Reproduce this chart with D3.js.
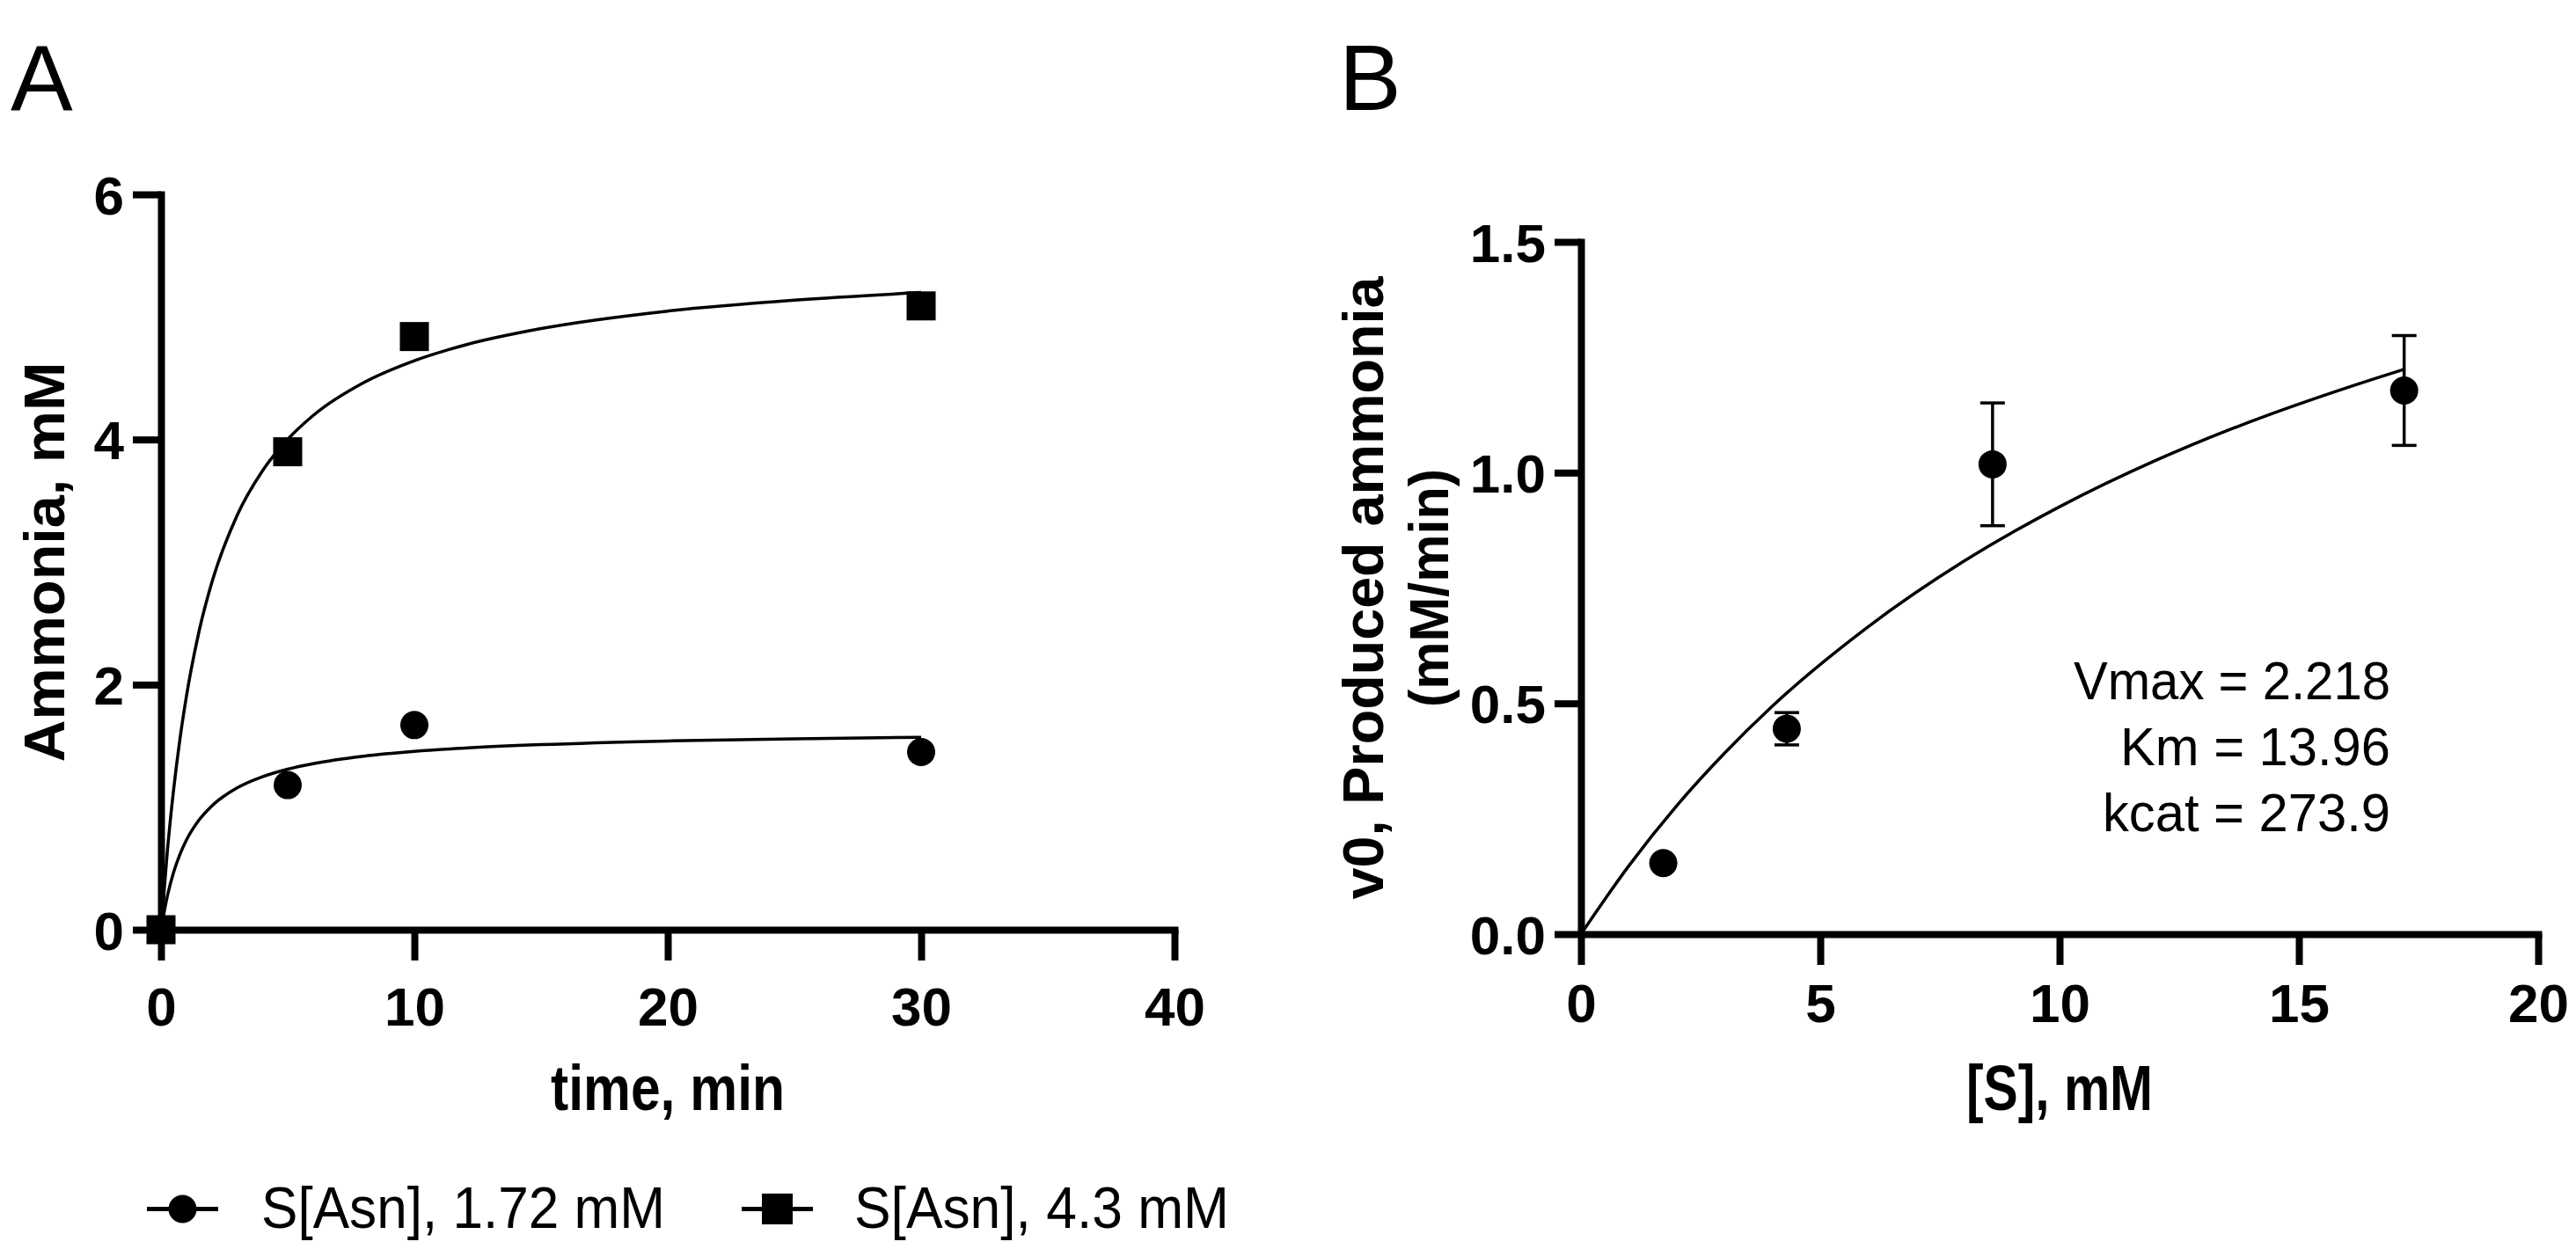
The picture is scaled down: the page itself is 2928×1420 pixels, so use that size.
<!DOCTYPE html>
<html>
<head>
<meta charset="utf-8">
<script src="https://cdn.jsdelivr.net/npm/d3@7/dist/d3.min.js"></script>
<style>
  html, body { margin: 0; padding: 0; background: #fff; }
  svg { display: block; }
  text { font-family: "Liberation Sans", Arial, Helvetica, sans-serif; fill: #000; }
</style>
</head>
<body>
<svg id="chart" width="2928" height="1420"></svg>
<script>
// ---------------- DATA ----------------
// Panel A: time course
const timeA = [0, 5, 10, 30];
const ammonia172 = [0, 1.18, 1.67, 1.45];      // S[Asn] 1.72 mM (circles)
const ammonia43  = [0, 3.90, 4.84, 5.09];      // S[Asn] 4.3 mM (squares)
// fitted curves
const fitTimeA   = [0, 0.25, 0.5, 0.75, 1, 1.5, 2, 3, 4, 5, 6, 8, 10, 12, 15, 20, 25, 30];
const fit172     = [0, 0.274, 0.470, 0.616, 0.730, 0.895, 1.009, 1.157, 1.248, 1.310, 1.355, 1.416, 1.455, 1.482, 1.510, 1.540, 1.558, 1.570];
const fit43      = [0, 0.640, 1.147, 1.559, 1.900, 2.433, 2.829, 3.379, 3.743, 4.001, 4.195, 4.464, 4.643, 4.771, 4.905, 5.048, 5.137, 5.199];
const seriesNamesA = ["S[Asn], 1.72 mM", "S[Asn], 4.3 mM"];
const xTicksA = [0, 10, 20, 30, 40];
const yTicksA = [0, 2, 4, 6];

// Panel B: Michaelis-Menten
const substrateB = [1.72, 4.3, 8.6, 17.2];
const rateB      = [0.154, 0.445, 1.018, 1.178];
const errB       = [0.000, 0.035, 0.133, 0.119];
const fitSB      = [0, 1, 2, 3, 4, 6, 8, 10, 12, 14, 16, 17.2];
const fitVB      = [0, 0.148, 0.278, 0.392, 0.494, 0.666, 0.808, 0.926, 1.026, 1.111, 1.184, 1.224];
const xTicksB = [0, 5, 10, 15, 20];
const yTicksB = [0, 0.5, 1.0, 1.5];
const annotB = ["Vmax = 2.218", "Km = 13.96", "kcat = 273.9"];

// ---------------- DRAW ----------------
const svg = d3.select("#chart");

function txt(g, s, o) {
  const t = g.append("text").text(s)
    .attr("font-size", o.size)
    .attr("font-weight", o.weight || "normal")
    .attr("text-anchor", o.anchor || "start");
  if (o.len) t.attr("textLength", o.len).attr("lengthAdjust", "spacingAndGlyphs");
  if (o.rotate) t.attr("transform", `translate(${o.x},${o.y}) rotate(${o.rotate})`);
  else t.attr("x", o.x).attr("y", o.y);
  return t;
}

function styleAxis(g, fontSize) {
  g.select(".domain").attr("stroke", "#000").attr("stroke-width", 8).attr("stroke-linecap", "square");
  g.selectAll(".tick line").attr("stroke", "#000").attr("stroke-width", 8);
  g.selectAll(".tick text").attr("font-size", fontSize).attr("font-weight", "bold")
    .attr("font-family", '"Liberation Sans", Arial, sans-serif').attr("fill", "#000");
}

// ===== Panel A =====
const xA = d3.scaleLinear().domain([0, 40]).range([183, 1335]);
const yA = d3.scaleLinear().domain([0, 6]).range([1057, 221]);

const gA = svg.append("g");
txt(gA, "A", {x: 12, y: 125, size: 106});

const axBA = gA.append("g").attr("transform", `translate(0,${yA(0)})`)
  .call(d3.axisBottom(xA).tickValues(xTicksA).tickSize(35).tickSizeOuter(0).tickPadding(30).tickFormat(d3.format("d")));
styleAxis(axBA, 62);
const axLA = gA.append("g").attr("transform", `translate(${xA(0)},0)`)
  .call(d3.axisLeft(yA).tickValues(yTicksA).tickSize(32).tickSizeOuter(0).tickPadding(10).tickFormat(d3.format("d")));
styleAxis(axLA, 62);
axLA.selectAll(".tick text").attr("dy", "0.36em");

txt(gA, "time, min", {x: (xA(0) + xA(40)) / 2, y: 1262, size: 72, weight: "bold", anchor: "middle", len: 266});
txt(gA, "Ammonia, mM", {x: 73, y: (yA(0) + yA(6)) / 2, size: 64, weight: "bold", anchor: "middle", len: 455, rotate: -90});

const lineA = d3.line().x(d => xA(d[0])).y(d => yA(d[1])).curve(d3.curveMonotoneX);
gA.append("path").datum(fitTimeA.map((t, i) => [t, fit172[i]]))
  .attr("d", lineA).attr("fill", "none").attr("stroke", "#000").attr("stroke-width", 3.5);
gA.append("path").datum(fitTimeA.map((t, i) => [t, fit43[i]]))
  .attr("d", lineA).attr("fill", "none").attr("stroke", "#000").attr("stroke-width", 3.5);

gA.selectAll("circle.pt").data(timeA.map((t, i) => [t, ammonia172[i]])).join("circle")
  .attr("class", "pt").attr("cx", d => xA(d[0])).attr("cy", d => yA(d[1])).attr("r", 16).attr("fill", "#000");
const sq = 33;
gA.selectAll("rect.pt").data(timeA.map((t, i) => [t, ammonia43[i]])).join("rect")
  .attr("class", "pt").attr("x", d => xA(d[0]) - sq / 2).attr("y", d => yA(d[1]) - sq / 2)
  .attr("width", sq).attr("height", sq).attr("fill", "#000");

// Legend
const legY = 1374.5;
const leg = gA.append("g");
leg.append("line").attr("x1", 167).attr("x2", 248).attr("y1", legY).attr("y2", legY).attr("stroke", "#000").attr("stroke-width", 5);
leg.append("circle").attr("cx", 207.5).attr("cy", legY).attr("r", 16).attr("fill", "#000");
txt(leg, seriesNamesA[0], {x: 297, y: 1396, size: 66, len: 459});
leg.append("line").attr("x1", 843).attr("x2", 924).attr("y1", legY).attr("y2", legY).attr("stroke", "#000").attr("stroke-width", 5);
leg.append("rect").attr("x", 883.5 - 17.5).attr("y", legY - 17.5).attr("width", 35).attr("height", 35).attr("fill", "#000");
txt(leg, seriesNamesA[1], {x: 971, y: 1396, size: 66, len: 426});

// ===== Panel B =====
const xB = d3.scaleLinear().domain([0, 20]).range([1797, 2885]);
const yB = d3.scaleLinear().domain([0, 1.5]).range([1062, 275]);

const gB = svg.append("g");
txt(gB, "B", {x: 1522, y: 125, size: 106});

const axBB = gB.append("g").attr("transform", `translate(0,${yB(0)})`)
  .call(d3.axisBottom(xB).tickValues(xTicksB).tickSize(35).tickSizeOuter(0).tickPadding(21).tickFormat(d3.format("d")));
styleAxis(axBB, 62);
const axLB = gB.append("g").attr("transform", `translate(${xB(0)},0)`)
  .call(d3.axisLeft(yB).tickValues(yTicksB).tickSize(30).tickSizeOuter(0).tickPadding(10).tickFormat(d3.format(".1f")));
styleAxis(axLB, 62);
axLB.selectAll(".tick text").attr("dy", "0.36em");

txt(gB, "[S], mM", {x: (xB(0) + xB(20)) / 2, y: 1262, size: 72, weight: "bold", anchor: "middle", len: 212});
const midB = (yB(0) + yB(1.5)) / 2;
txt(gB, "v0, Produced ammonia", {x: 1572, y: midB, size: 64, weight: "bold", anchor: "middle", len: 708, rotate: -90});
txt(gB, "(mM/min)", {x: 1646, y: midB, size: 63, weight: "bold", anchor: "middle", len: 271, rotate: -90});

const lineB = d3.line().x(d => xB(d[0])).y(d => yB(d[1])).curve(d3.curveMonotoneX);
gB.append("path").datum(fitSB.map((s, i) => [s, fitVB[i]]))
  .attr("d", lineB).attr("fill", "none").attr("stroke", "#000").attr("stroke-width", 3.5);

const ptsB = substrateB.map((s, i) => ({s, v: rateB[i], e: errB[i]}));
const eb = gB.selectAll("g.eb").data(ptsB.filter(d => d.e > 0)).join("g").attr("class", "eb");
eb.append("line").attr("x1", d => xB(d.s)).attr("x2", d => xB(d.s))
  .attr("y1", d => yB(d.v - d.e)).attr("y2", d => yB(d.v + d.e)).attr("stroke", "#000").attr("stroke-width", 3.5);
eb.append("line").attr("x1", d => xB(d.s) - 14).attr("x2", d => xB(d.s) + 14)
  .attr("y1", d => yB(d.v + d.e)).attr("y2", d => yB(d.v + d.e)).attr("stroke", "#000").attr("stroke-width", 3.5);
eb.append("line").attr("x1", d => xB(d.s) - 14).attr("x2", d => xB(d.s) + 14)
  .attr("y1", d => yB(d.v - d.e)).attr("y2", d => yB(d.v - d.e)).attr("stroke", "#000").attr("stroke-width", 3.5);
gB.selectAll("circle.pt").data(ptsB).join("circle")
  .attr("class", "pt").attr("cx", d => xB(d.s)).attr("cy", d => yB(d.v)).attr("r", 16).attr("fill", "#000");

const annLens = [360, 307, 327];
annotB.forEach((s, i) => {
  txt(gB, s, {x: 2717, y: 795 + i * 75, size: 62, anchor: "end", len: annLens[i]});
});
</script>
</body>
</html>
